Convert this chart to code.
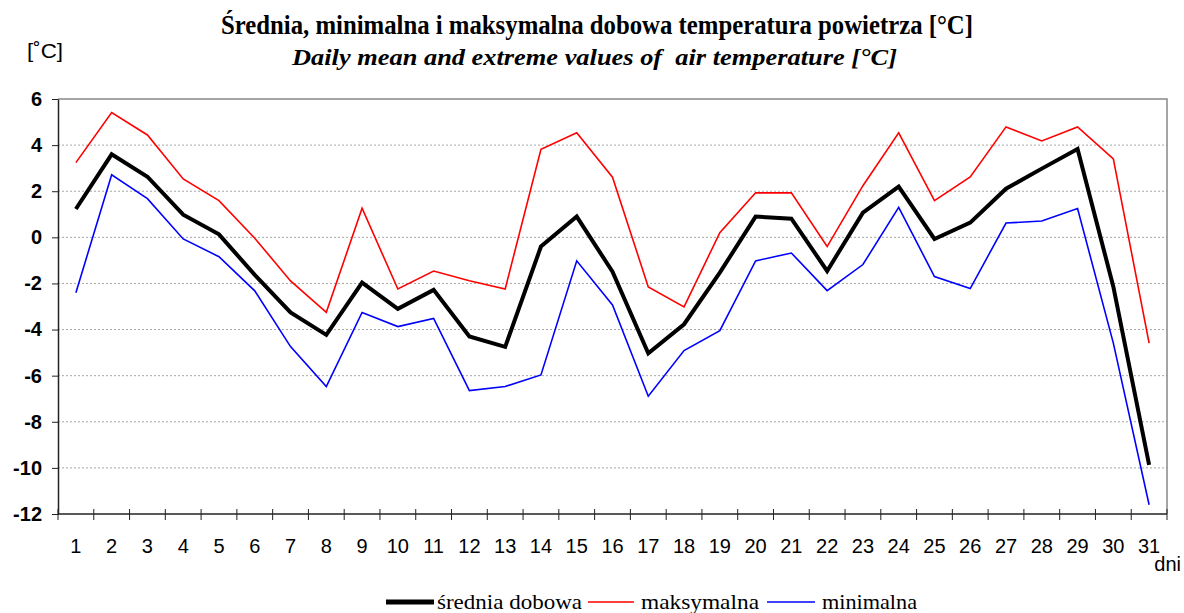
<!DOCTYPE html>
<html>
<head>
<meta charset="utf-8">
<script src="https://cdn.jsdelivr.net/npm/d3@7"></script>
<style>
	body { margin: 0; background: #fff; }
	svg { display: block; }
</style>
</head>
<body>
<div id="chart"></div>
<script>
const days = d3.range(1, 32)
const yTicks = [-12, -10, -8, -6, -4, -2, 0, 2, 4, 6]

// średnia dobowa
const mean = [1.23, 3.6, 2.63, 0.98, 0.13, -1.63, -3.26, -4.23, -1.96, -3.1,
	-2.28, -4.3, -4.75, -0.4, 0.9, -1.49, -5.03, -3.77, -1.53, 0.9,
	0.81, -1.46, 1.07, 2.2, -0.07, 0.64, 2.11, 2.98, 3.83, -2.14, -9.87]
// maksymalna
const maxT = [3.24, 5.41, 4.44, 2.53, 1.59, -0.04, -1.89, -3.25, 1.26, -2.24,
	-1.46, -1.88, -2.24, 3.82, 4.54, 2.61, -2.15, -3.02, 0.2, 1.93,
	1.93, -0.4, 2.24, 4.53, 1.59, 2.62, 4.79, 4.18, 4.79, 3.4, -4.59]
// minimalna
const minT = [-2.4, 2.71, 1.68, -0.07, -0.84, -2.32, -4.74, -6.47, -3.26, -3.87,
	-3.52, -6.65, -6.47, -5.97, -1.02, -2.93, -6.89, -4.91, -4.05, -1.02,
	-0.68, -2.31, -1.18, 1.3, -1.7, -2.22, 0.62, 0.71, 1.25, -4.59, -11.6]

const seriesNames = ['średnia dobowa', 'maksymalna', 'minimalna']
const seriesColors = ['#000000', '#ff0000', '#0000ff']

const width = 1184
const height = 613
const margin = { top: 99, right: 17, bottom: 99, left: 58 }

const svg = d3
	.select('#chart')
	.append('svg')
	.attr('width', width)
	.attr('height', height)

const x = d3
	.scaleBand()
	.domain(days)
	.range([margin.left, width - margin.right])
	.padding(0)

const y = d3
	.scaleLinear()
	.domain([-12, 6])
	.range([height - margin.bottom, margin.top])

const cx = d => x(d) + x.bandwidth() / 2

// titles
svg
	.append('text')
	.attr('x', 221)
	.attr('y', 34)
	.attr('textLength', 752)
	.attr('lengthAdjust', 'spacingAndGlyphs')
	.style('font', 'bold 27px "Liberation Serif", "Times New Roman", serif')
	.text('Średnia, minimalna i maksymalna dobowa temperatura powietrza [°C]')

svg
	.append('text')
	.attr('x', 292)
	.attr('y', 65)
	.attr('textLength', 605)
	.attr('lengthAdjust', 'spacingAndGlyphs')
	.style('font', 'italic bold 24px "Liberation Serif", "Times New Roman", serif')
	.style('white-space', 'pre')
	.text('Daily mean and extreme values of  air temperature [°C]')

svg
	.append('text')
	.attr('x', 27)
	.attr('y', 58)
	.attr('textLength', 36)
	.attr('lengthAdjust', 'spacingAndGlyphs')
	.style('font', '21px "Liberation Sans", Arial, sans-serif')
	.text('[˚C]')

// grid
svg
	.append('g')
	.selectAll('line')
	.data(yTicks.filter(d => d > -12 && d < 6))
	.join('line')
	.attr('x1', margin.left)
	.attr('x2', width - margin.right)
	.attr('y1', d => y(d))
	.attr('y2', d => y(d))
	.attr('stroke', '#a6a6a6')
	.attr('stroke-width', 1)
	.attr('stroke-dasharray', '2,2')

// top & right border
svg
	.append('path')
	.attr('d', `M${margin.left},${y(6)}H${width - margin.right}V${y(-12)}`)
	.attr('fill', 'none')
	.attr('stroke', '#888')
	.attr('stroke-width', 1.5)

// y axis
const yAxis = svg
	.append('g')
	.attr('transform', `translate(${margin.left},0)`)
	.call(
		d3
			.axisLeft(y)
			.tickValues(yTicks)
			.tickFormat(d => String(d))
			.tickSize(6)
			.tickPadding(10)
			.tickSizeOuter(0)
	)

yAxis.select('.domain').attr('stroke', '#222').attr('stroke-width', 1.5)
yAxis.selectAll('.tick line').attr('stroke', '#222')
yAxis
	.selectAll('.tick text')
	.style('font', 'bold 20px "Liberation Sans", Arial, sans-serif')
	.attr('fill', '#000')

// x axis: ticks at band edges, labels at band centres
const xAxis = svg
	.append('g')
	.attr('transform', `translate(0,${y(-12)})`)

xAxis
	.append('line')
	.attr('x1', margin.left)
	.attr('x2', width - margin.right)
	.attr('stroke', '#222')
	.attr('stroke-width', 1.5)

xAxis
	.selectAll('line.tk')
	.data(days.concat([32]))
	.join('line')
	.classed('tk', true)
	.attr('x1', d => (d === 32 ? x(31) + x.bandwidth() : x(d)))
	.attr('x2', d => (d === 32 ? x(31) + x.bandwidth() : x(d)))
	.attr('y1', -5)
	.attr('y2', 6)
	.attr('stroke', '#222')

xAxis
	.selectAll('text')
	.data(days)
	.join('text')
	.attr('x', d => cx(d))
	.attr('y', 39)
	.attr('text-anchor', 'middle')
	.style('font', '20px "Liberation Sans", Arial, sans-serif')
	.text(d => d)

svg
	.append('text')
	.attr('x', 1181)
	.attr('y', 571)
	.attr('text-anchor', 'end')
	.style('font', '20px "Liberation Sans", Arial, sans-serif')
	.text('dni')

// lines
const line = d3
	.line()
	.x((d, i) => cx(days[i]))
	.y(d => y(d))

svg
	.append('path')
	.datum(maxT)
	.attr('d', line)
	.attr('fill', 'none')
	.attr('stroke', seriesColors[1])
	.attr('stroke-width', 1.6)

svg
	.append('path')
	.datum(minT)
	.attr('d', line)
	.attr('fill', 'none')
	.attr('stroke', seriesColors[2])
	.attr('stroke-width', 1.6)

svg
	.append('path')
	.datum(mean)
	.attr('d', line)
	.attr('fill', 'none')
	.attr('stroke', seriesColors[0])
	.attr('stroke-width', 4)
	.attr('stroke-linejoin', 'miter')

// legend
const legendItems = [
	{ x1: 386, x2: 434, tx: 437, tw: 145, sw: 5 },
	{ x1: 588, x2: 634, tx: 641, tw: 118, sw: 1.6 },
	{ x1: 767, x2: 815, tx: 822, tw: 95, sw: 1.6 }
]

const legend = svg
	.append('g')
	.selectAll('g')
	.data(legendItems)
	.join('g')

legend
	.append('line')
	.attr('x1', d => d.x1)
	.attr('x2', d => d.x2)
	.attr('y1', 602)
	.attr('y2', 602)
	.attr('stroke', (d, i) => seriesColors[i])
	.attr('stroke-width', d => d.sw)

legend
	.append('text')
	.attr('x', d => d.tx)
	.attr('y', 609)
	.attr('textLength', d => d.tw)
	.attr('lengthAdjust', 'spacingAndGlyphs')
	.style('font', '22px "Liberation Serif", "Times New Roman", serif')
	.text((d, i) => seriesNames[i])
</script>
</body>
</html>
